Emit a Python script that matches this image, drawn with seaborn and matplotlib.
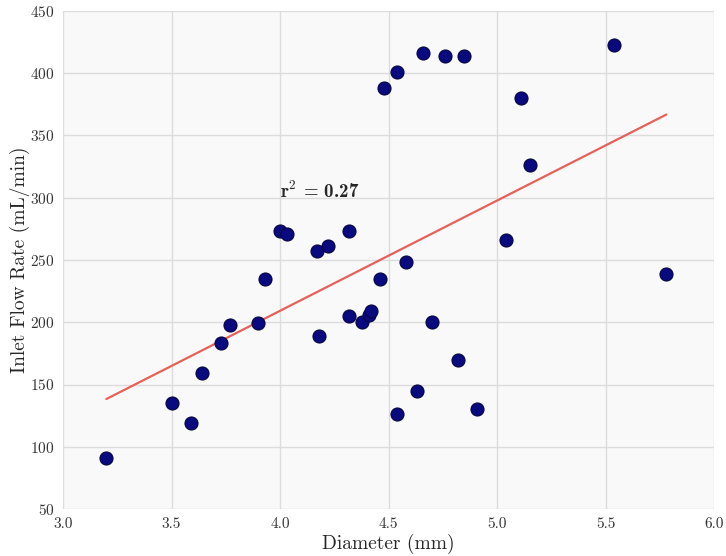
import matplotlib
matplotlib.use("Agg")
import matplotlib.pyplot as plt
import seaborn as sns
import numpy as np
import pandas as pd

diameter = [3.20, 3.50, 3.59, 3.64, 3.73, 3.77, 3.90, 3.93, 4.00, 4.03,
            4.17, 4.18, 4.22, 4.32, 4.32, 4.38, 4.41, 4.42, 4.46, 4.48,
            4.54, 4.54, 4.58, 4.63, 4.66, 4.70, 4.76, 4.82, 4.85, 4.91,
            5.04, 5.11, 5.15, 5.54, 5.78]
flow = [91, 135, 119, 159, 183, 198, 199, 235, 273, 271,
        257, 189, 261, 273, 205, 200, 206, 209, 235, 388,
        401, 126, 248, 145, 416, 200, 414, 170, 414, 130,
        266, 380, 326, 423, 239]
r2_label = "0.27"

df = pd.DataFrame({"Diameter (mm)": diameter, "Inlet Flow Rate (mL/min)": flow})

sns.set_style("whitegrid")
plt.rcParams["font.family"] = ["cmr10", "DejaVu Serif"]
plt.rcParams["mathtext.fontset"] = "cm"
plt.rcParams["axes.formatter.use_mathtext"] = True

fig = plt.figure(figsize=(7.26, 5.56), dpi=100)
ax = fig.add_axes([63/726, 1 - 509/556, (714-63)/726, (509-11)/556])
ax.set_facecolor("#f9f9f9")

sns.regplot(data=df, x="Diameter (mm)", y="Inlet Flow Rate (mL/min)", ax=ax, ci=None,
            scatter_kws=dict(s=88, color="#0a0a80", edgecolor="#050540", linewidths=0.8, alpha=1, zorder=3),
            line_kws=dict(color="#e8605a", lw=1.6, zorder=2))

ax.text(4.0, 300, r"r$^{\mathbf{2}}$ = " + r2_label, family=["cmb10", "DejaVu Serif"],
        fontsize=13.6, ha="left", va="baseline")

ax.set_xlim(3.0, 6.0)
ax.set_ylim(50, 450)
ax.set_xticks(np.arange(3.0, 6.01, 0.5))
ax.set_xticklabels([f"{v:.1f}" for v in np.arange(3.0, 6.01, 0.5)])
ax.set_yticks(np.arange(50, 451, 50))
ax.grid(True, color="#dcdcdc", lw=1)
for s in ax.spines.values():
    s.set_visible(False)
ax.tick_params(labelsize=11, colors="#333333", length=0, pad=6)
for lab in ax.get_xticklabels() + ax.get_yticklabels():
    lab.set_color("#333333")
ax.set_xlabel("Diameter (mm)", fontsize=14, labelpad=2)
ax.set_ylabel("Inlet Flow Rate (mL/min)", fontsize=14, labelpad=0)

fig.savefig("out.png", dpi=100)
